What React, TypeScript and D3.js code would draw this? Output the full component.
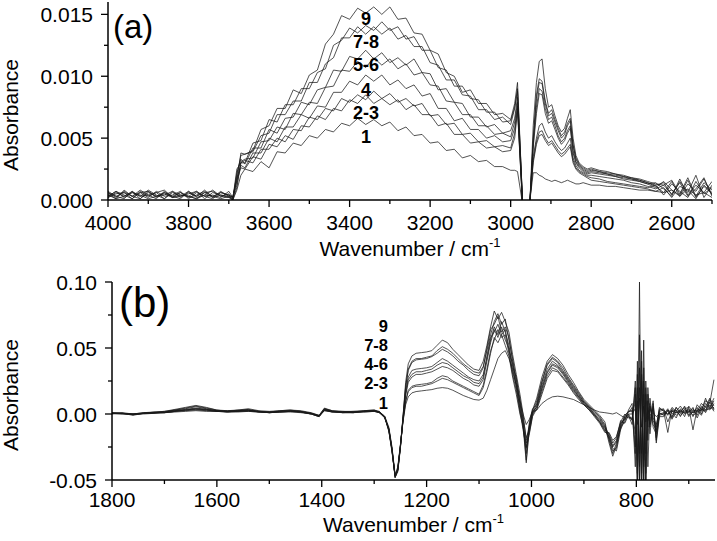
import React from 'react';
import * as d3 from 'd3';

// ---------- Panel (a): 4000–2500 cm-1, absorbance in units of 1e-4 ----------
const TOP_UNIT = 1e-4;
const TOP_WN = [
  4000, 3980, 3960, 3940, 3920, 3900, 3880, 3860, 3840, 3820, 3800, 3780, 3760, 3740, 3720, 3700, 3690, 3680, 3670,
  3660, 3640, 3620, 3600, 3580, 3560, 3540, 3520, 3500, 3480, 3460, 3440, 3420, 3400, 3380, 3360, 3340, 3320, 3300,
  3280, 3260, 3240, 3220, 3200, 3180, 3160, 3140, 3120, 3100, 3080, 3060, 3040, 3020, 3000,
  2990, 2983, 2972, 2966, 2958, 2952, 2944, 2936, 2929, 2922, 2914, 2906, 2898, 2890, 2882, 2874, 2866, 2859, 2852,
  2845, 2838, 2830, 2820, 2810,
  2800, 2780, 2760, 2740, 2720, 2700, 2680, 2660, 2640, 2620, 2600, 2580, 2560, 2540, 2520, 2500,
];
const TOP_S1 = [
  5, 1, 3, 6, 4, 1, 3, 5, 2, 6, 3, 1, 4, 3, 1, 3, 0, 8, 20,
  25, 23, 31, 26, 39, 38, 46, 44, 52, 50, 57, 55, 62, 60, 66, 61, 65, 60, 63, 56, 59, 52, 53, 46, 47, 40, 41, 34, 36, 31, 32, 27, 27, 24,
  24, 23, 0, -40, -40, 0, 22, 22, 20, 19, 17, 16, 15, 16, 15, 14, 15, 16, 15, 14, 13, 13, 14, 13,
  12, 12, 11, 11, 10, 9, 8, 8, 7, 6, 8, 3, 9, 4, 6, 2,
];
const TOP_S2 = [
  2, 5, 6, 3, 1, 7, 3, 6, 2, 3, 5, 7, 3, 1, 6, 4, 2, 16, 26,
  25, 35, 33, 45, 43, 52, 49, 60, 59, 68, 65, 74, 72, 81, 78, 85, 78, 82, 77, 81, 73, 77, 69, 69, 60, 62, 53, 53, 46, 47, 42, 43, 39, 40,
  50, 72, 5, -40, -40, 0, 30, 45, 52, 53, 48, 44, 46, 42, 38, 35, 37, 40, 43, 30, 25, 22, 20, 18,
  16, 15, 14, 13, 12, 11, 10, 9, 7, 10, 2, 11, 8, 1, 12, 6,
];
const TOP_S3 = [
  6, 3, 1, 7, 3, 4, 6, 1, 7, 4, 3, 1, 6, 7, 3, 2, 0, 10, 30,
  32, 30, 41, 41, 50, 47, 57, 56, 67, 65, 74, 72, 82, 79, 85, 81, 88, 82, 86, 79, 82, 76, 78, 68, 69, 61, 62, 53, 54, 47, 48, 43, 44, 42,
  54, 74, 5, -40, -40, 0, 32, 47, 55, 56, 50, 46, 48, 44, 40, 37, 39, 42, 45, 32, 26, 23, 21, 19,
  18, 17, 15, 14, 13, 12, 11, 10, 12, 4, 13, 7, 2, 15, 5, 10,
];
const TOP_S4 = [
  3, 7, 4, 1, 6, 7, 2, 6, 3, 1, 7, 3, 6, 2, 4, 3, 1, 18, 28,
  26, 38, 38, 50, 47, 59, 59, 69, 66, 76, 75, 87, 87, 96, 93, 101, 96, 101, 93, 97, 90, 93, 84, 86, 74, 74, 64, 66, 57, 57, 50, 52, 47, 48,
  58, 76, 6, -40, -40, 0, 35, 50, 60, 62, 55, 50, 52, 47, 43, 40, 42, 46, 50, 34, 28, 24, 22, 20,
  20, 19, 18, 17, 16, 14, 13, 11, 9, 12, 5, 14, 3, 9, 18, 3,
];
const TOP_S5 = [
  4, 1, 8, 3, 6, 2, 7, 3, 4, 7, 1, 6, 3, 4, 2, 7, 2, 12, 31,
  33, 34, 47, 48, 59, 57, 70, 69, 79, 78, 91, 92, 105, 104, 112, 107, 115, 109, 114, 106, 110, 101, 103, 93, 92, 80, 79, 69, 69, 60, 60, 53, 54, 51,
  63, 79, 8, -40, -40, 0, 42, 70, 86, 85, 70, 62, 64, 57, 50, 45, 48, 54, 58, 38, 30, 26, 23, 21,
  22, 21, 20, 19, 17, 16, 15, 13, 10, 15, 8, 4, 16, 2, 11, 5,
];
const TOP_S6 = [
  2, 6, 3, 7, 1, 6, 3, 4, 7, 2, 6, 3, 8, 2, 7, 3, 0, 22, 33,
  29, 42, 42, 57, 54, 66, 67, 79, 77, 89, 91, 105, 104, 116, 114, 121, 114, 119, 111, 115, 109, 114, 103, 102, 89, 90, 79, 78, 67, 67, 59, 61, 54, 56,
  66, 83, 8, -40, -40, 0, 45, 75, 90, 88, 74, 65, 67, 60, 52, 47, 50, 56, 60, 40, 31, 27, 24, 22,
  23, 22, 21, 19, 18, 17, 15, 13, 14, 9, 3, 17, 4, 12, 6, 15,
];
const TOP_S7 = [
  7, 3, 6, 1, 7, 3, 6, 8, 2, 4, 3, 7, 1, 6, 4, 2, 3, 15, 38,
  37, 39, 52, 54, 69, 69, 80, 80, 95, 95, 110, 115, 131, 131, 140, 134, 140, 134, 139, 130, 133, 124, 124, 111, 109, 97, 97, 85, 84, 73, 73, 65, 67, 61,
  74, 88, 10, -40, -40, 0, 48, 82, 95, 94, 78, 68, 70, 63, 56, 50, 53, 60, 64, 44, 33, 28, 25, 23,
  24, 23, 21, 20, 19, 17, 16, 14, 11, 6, 15, 3, 13, 7, 17, 4,
];
const TOP_S8 = [
  3, 7, 2, 6, 3, 8, 4, 1, 6, 3, 7, 2, 4, 8, 3, 5, 1, 25, 30,
  30, 46, 48, 65, 63, 77, 77, 90, 90, 103, 106, 125, 129, 139, 135, 141, 137, 144, 137, 140, 130, 132, 121, 121, 107, 105, 92, 92, 82, 81, 71, 71, 63, 64,
  75, 90, 10, -40, -40, 0, 50, 85, 98, 96, 80, 70, 73, 65, 58, 52, 55, 62, 66, 45, 34, 29, 26, 24,
  25, 23, 22, 21, 19, 18, 16, 14, 12, 14, 4, 15, 6, 20, 2, 12,
];
const TOP_S9 = [
  6, 2, 7, 3, 8, 4, 1, 7, 3, 6, 2, 4, 7, 3, 6, 4, 2, 20, 36,
  37, 40, 57, 60, 74, 74, 89, 86, 101, 105, 126, 134, 149, 146, 155, 151, 156, 150, 156, 146, 147, 135, 134, 121, 118, 103, 100, 87, 89, 78, 78, 69, 70, 65,
  78, 95, 10, -40, -40, 0, 60, 95, 112, 114, 90, 75, 77, 68, 60, 55, 58, 66, 73, 50, 36, 30, 27, 25,
  26, 24, 23, 21, 20, 18, 17, 15, 13, 12, 16, 5, 18, 3, 14, 8,
];
const TOP_SERIES = [TOP_S1, TOP_S2, TOP_S3, TOP_S4, TOP_S5, TOP_S6, TOP_S7, TOP_S8, TOP_S9];
const TOP_X_MAJOR = [4000, 3800, 3600, 3400, 3200, 3000, 2800, 2600];
const TOP_X_MINOR = [3900, 3700, 3500, 3300, 3100, 2900, 2700, 2500];
const TOP_Y_MAJOR = [0, 0.005, 0.01, 0.015];
const TOP_Y_LABELS = ['0.000', '0.005', '0.010', '0.015'];
const TOP_Y_MINOR = [0.0025, 0.0075, 0.0125];
const TOP_CURVE_LABELS = ['9', '7-8', '5-6', '4', '2-3', '1'];

// ---------- Panel (b): 1800–650 cm-1, absorbance in units of 1e-3 ----------
const BOT_UNIT = 1e-3;
const BOT_WN = [
  1800, 1780, 1760, 1740, 1720, 1700, 1680, 1660, 1640, 1620, 1600, 1580, 1560, 1540, 1520, 1500, 1480, 1460, 1440, 1420,
  1405, 1395, 1380, 1360, 1340, 1320, 1300, 1290, 1280,
  1272, 1266, 1260, 1255, 1250, 1245, 1240, 1235, 1228,
  1220, 1210, 1200, 1190, 1180, 1170, 1160, 1150, 1140, 1130, 1120, 1110, 1100,
  1092, 1085, 1078, 1071, 1064, 1057, 1050, 1043, 1036, 1029, 1022, 1016, 1010, 1004, 998,
  990, 980, 970, 960, 950, 940, 930, 920, 910, 900, 890, 880, 870, 860,
  852, 845, 838, 830, 822, 815,
  808, 802, 798, 794, 790, 786, 782, 778, 774, 768, 762, 756,
  748, 740, 732, 724, 716, 708, 700, 692, 684, 676, 668, 660, 652,
];
const BOT_S1 = [
  0.5, 0.5, 0, 0.5, 1, 1, 1.5, 2, 2.5, 2, 2, 1.5, 1.5, 2, 1.5, 1, 1.5, 1.5, 1, 0,
  -1.5, 2.5, 1.5, 1, 1, 1.5, 2, 1.5, -1.5,
  -10, -25, -46, -40, -23, -6, 7, 13, 16,
  17, 17.5, 18, 18.5, 19.5, 20, 19.5, 18, 16, 14, 12.5, 11, 10.5,
  12, 18, 26, 34, 42, 46, 48, 42, 34, 22, 10, 0, -8, -4, 2,
  3, 8, 11, 13, 13.5, 13, 12, 11, 9, 7, 5, 3, 1.5, 1,
  0.5, 0, 1, -1, -3, 0,
  0, 4, -8, 12, -10, 6, -6, 3, -1, 1, -2, 0,
  1, 0, 2, 1, 2, 1, 2, 1, 2, 3, 3, 4, 5,
];
const BOT_S2 = [
  0.5, 0, -0.5, 0.5, 0.5, 1, 2, 2.5, 3, 2.5, 2, 1.5, 2, 2, 1.5, 1, 1.5, 2, 1.5, 0,
  -2, 2.5, 2, 1, 1, 2, 2, 1, -2,
  -12, -27, -48, -42, -25, -5, 9, 17, 20,
  21, 21, 22, 23, 25, 27, 26, 24, 22, 20, 18, 16, 14,
  20, 32, 46, 58, 54, 60, 52, 44, 28, 15, 0, -9, -37, -11, 1,
  3, 15, 27, 33, 32, 27, 22, 16, 11, 7, 3, -2, -7, -14,
  -14, -20, -17, -7, -4, -2,
  -4, 10, -35, 20, -30, 15, -45, 5, -10, 6, -14, -1,
  0, 3, -4, 2, -1, 2, 3, -1, 1, 5, 1, 7, 2,
];
const BOT_S3 = [
  1, 0.5, 0, 0.5, 1, 1, 2, 3, 3.5, 3, 2, 2, 2, 2.5, 2, 1, 1.5, 2, 1.5, 0.5,
  -1.5, 3, 1.5, 1.5, 1.5, 1.5, 2, 1, -2.5,
  -11, -26, -47, -41, -24, -5, 10, 18, 21,
  22, 22.5, 23, 24, 27, 29, 28, 25, 23, 21, 19, 17, 15,
  22, 34, 48, 56, 64, 58, 60, 46, 30, 18, 2, -12, -26, -15, -2,
  4, 17, 29, 35, 33, 28, 23, 17, 12, 7, 3, -1, -6, -13,
  -17, -25, -21, -11, -1, 2,
  3, -15, 10, -40, 25, -50, 15, -5, 4, -3, -8, 2,
  3, 0, 3, -1, 2, 5, -2, 2, 3, -1, 6, 3, 8,
];
const BOT_S4 = [
  0.5, 0.5, -0.5, 0, 0.5, 1.5, 2.5, 3, 4, 3.5, 2.5, 1.5, 2.5, 3, 1.5, 1.5, 2, 2.5, 1.5, 0,
  -2, 3.5, 2, 1, 1.5, 2, 2.5, 1, -3,
  -11, -27, -47, -42, -24, -4, 14, 24, 28,
  30, 30, 31, 32, 34, 36, 35, 33, 30, 27, 25, 22, 21,
  26, 40, 54, 64, 58, 66, 56, 50, 32, 22, 3, -6, -35, -9, 2,
  5, 19, 31, 37, 35, 30, 24, 18, 13, 8, 4, -1, -6, -12,
  -15, -22, -18, -5, -7, -1,
  -8, 25, -45, 35, -60, 25, -30, 10, -15, 8, -18, 1,
  -1, 2, -2, 5, 0, 3, 1, 5, -3, 4, 2, 11, 3,
];
const BOT_S5 = [
  0.5, 0, 0, 0.5, 1, 1, 2, 3, 4, 3, 2, 2, 2, 2.5, 2, 1, 1.5, 2, 2, 0.5,
  -1.5, 3, 1.5, 1.5, 1, 2, 2.5, 1.5, -2,
  -12, -27, -48, -42, -25, -4, 15, 26, 30,
  32, 32, 33, 34, 37, 39, 38, 35, 32, 29, 27, 24, 23,
  28, 44, 58, 62, 68, 60, 64, 48, 38, 20, 5, -10, -22, -14, -1,
  6, 20, 32, 38, 36, 31, 25, 19, 13, 8, 4, 0, -5, -11,
  -19, -28, -26, -9, -3, 1,
  5, -25, 20, -50, 40, -35, 20, -40, 6, -5, -10, 5,
  2, -14, 4, 1, 3, -2, 6, 1, 5, 0, 8, 5, 12,
];
const BOT_S6 = [
  0, 0.5, -1, 0.5, 1, 1.5, 2.5, 3.5, 4.5, 3.5, 2.5, 2.5, 2.5, 3, 1.5, 1.5, 2, 2.5, 1.5, 0,
  -2, 3.5, 2, 1.5, 1.5, 2, 2.5, 1, -2.5,
  -13, -28, -47, -43, -25, -4, 17, 28, 33,
  34, 34.5, 35, 36, 39, 42, 40, 37, 34, 31, 28, 26, 25,
  30, 42, 56, 66, 60, 70, 62, 52, 36, 28, 8, -8, -30, -6, 4,
  7, 22, 34, 40, 37, 32, 26, 20, 14, 9, 5, 0, -4, -10,
  -16, -24, -20, -6, 0, -3,
  -3, 15, -60, 60, -45, 35, -60, 15, -5, 10, -22, -2,
  -2, 3, 1, -3, 4, 0, 2, 4, -1, 6, 3, 9, 4,
];
const BOT_S7 = [
  0.5, 0.5, 0, 1, 1, 1.5, 3, 4, 5.5, 4, 2.5, 2, 3, 3, 2, 1.5, 2, 2.5, 2, 0.5,
  -1, 4, 2.5, 1.5, 2, 2, 2.5, 1.5, -2,
  -12, -27, -48, -42, -24, -2, 20, 33, 39,
  41, 41.5, 42, 43.5, 46, 49, 47, 44, 40, 37, 33, 30, 29,
  35, 50, 64, 68, 74, 62, 66, 58, 40, 24, 8, -3, -18, -12, 0,
  8, 24, 37, 42, 39, 33, 27, 21, 15, 9, 5, 1, -3, -9,
  -22, -32, -24, -10, -6, 3,
  8, -40, 30, -30, 48, -55, 25, -10, 12, -8, -12, 3,
  4, -6, 2, 3, -2, 4, 5, -12, 4, 2, 12, 4, 10,
];
const BOT_S8 = [
  1, 0.5, -0.5, 0.5, 1.5, 2, 3, 4.5, 6, 4.5, 3, 2, 2.5, 3.5, 2, 1.5, 2.5, 3, 2, 0.5,
  -1.5, 4, 2, 2, 1.5, 2.5, 3, 1.5, -2.5,
  -13, -29, -47, -43, -25, -3, 21, 34, 40,
  42, 42, 43, 44, 48, 51, 49, 46, 42, 38, 35, 32, 31,
  36, 48, 60, 70, 76, 68, 72, 56, 42, 26, 12, -5, -25, -10, 2,
  10, 25, 38, 43, 40, 35, 28, 22, 16, 10, 6, 2, -2, -8,
  -18, -26, -28, -12, -4, 0,
  -5, 20, -55, 100, -60, 56, -50, 20, -8, 5, -20, 0,
  0, 4, -3, 5, 1, 6, -1, 3, 2, 8, 5, 12, 6,
];
const BOT_S9 = [
  0.5, 1, 0, 1, 1.5, 2, 3.5, 5, 6.5, 5, 3, 2.5, 3, 4, 2.5, 2, 2.5, 3, 2.5, 1,
  -1, 4.5, 2.5, 2, 2, 2.5, 3, 2, -2,
  -12, -28, -48, -44, -26, -2, 24, 38, 44,
  46, 46.5, 47, 48, 52, 56, 54, 49, 45, 41, 37, 34, 33,
  40, 52, 66, 78, 72, 77, 70, 62, 45, 30, 15, 0, -20, -8, 3,
  12, 28, 40, 45, 42, 37, 30, 24, 17, 11, 7, 3, -1, -6,
  -20, -30, -22, -8, -2, 2,
  2, -30, 40, -60, 30, -40, 10, -20, 8, -10, -15, 4,
  3, -1, 5, 2, 6, 1, 4, -2, 7, 3, 10, 8, 26,
];
const BOT_SERIES = [BOT_S1, BOT_S2, BOT_S3, BOT_S4, BOT_S5, BOT_S6, BOT_S7, BOT_S8, BOT_S9];
const BOT_X_MAJOR = [1800, 1600, 1400, 1200, 1000, 800];
const BOT_X_MINOR = [1700, 1500, 1300, 1100, 900, 700];
const BOT_Y_MAJOR = [-0.05, 0, 0.05, 0.1];
const BOT_Y_LABELS = ['-0.05', '0.00', '0.05', '0.10'];
const BOT_Y_MINOR = [-0.025, 0.025, 0.075];
const BOT_CURVE_LABELS = ['9', '7-8', '4-6', '2-3', '1'];

const FONT = '"Liberation Sans", Arial, Helvetica, sans-serif';
const MAJOR = 7;
const MINOR = 4;

type PanelProps = {
  id: string;
  wn: number[];
  series: number[][];
  unit: number;
  xDomain: [number, number];
  yDomain: [number, number];
  left: number;
  right: number;
  top: number;
  bottom: number;
  xMajor: number[];
  xMinor: number[];
  yMajor: number[];
  yLabels: string[];
  yMinor: number[];
  xLabelBaseline: number;
  xTitleBaseline: number;
  yTitleCenter: number;
  tag: string;
  tagSize: number;
  tagX: number;
  tagY: number;
  curveLabels: string[];
  curveLabelX: number;
  curveLabelBaselines: number[];
  curveLabelAnchor: 'middle' | 'end';
  curveLabelSize: number;
};

function Panel(p: PanelProps) {
  const x = d3.scaleLinear().domain(p.xDomain).range([p.left, p.right]);
  const y = d3.scaleLinear().domain(p.yDomain).range([p.bottom, p.top]);
  const line = d3
    .line<number>()
    .x((_, i) => x(p.wn[i]))
    .y((v) => y(v * p.unit));
  const clipId = `clip-${p.id}`;
  return (
    <g>
      <defs>
        <clipPath id={clipId}>
          <rect x={p.left} y={p.top - 1} width={p.right - p.left} height={p.bottom - p.top + 1} />
        </clipPath>
      </defs>
      <g clipPath={`url(#${clipId})`}>
        {p.series.map((s, i) => (
          <path key={i} d={line(s) || ''} fill="none" stroke="#1a1a1a" strokeWidth={0.75} strokeLinejoin="round" />
        ))}
      </g>
      <line x1={p.left} x2={p.right} y1={p.bottom} y2={p.bottom} stroke="#000" strokeWidth={1.5} />
      <line x1={p.left} x2={p.left} y1={p.top} y2={p.bottom} stroke="#000" strokeWidth={1.5} />
      {p.xMajor.map((t) => (
        <line key={`xM${t}`} x1={x(t)} x2={x(t)} y1={p.bottom} y2={p.bottom + MAJOR} stroke="#000" strokeWidth={1.3} />
      ))}
      {p.xMinor.map((t) => (
        <line key={`xm${t}`} x1={x(t)} x2={x(t)} y1={p.bottom} y2={p.bottom + MINOR} stroke="#000" strokeWidth={1.3} />
      ))}
      {p.yMajor.map((t) => (
        <line key={`yM${t}`} x1={p.left - MAJOR} x2={p.left} y1={y(t)} y2={y(t)} stroke="#000" strokeWidth={1.3} />
      ))}
      {p.yMinor.map((t) => (
        <line key={`ym${t}`} x1={p.left - MINOR} x2={p.left} y1={y(t)} y2={y(t)} stroke="#000" strokeWidth={1.3} />
      ))}
      {p.xMajor.map((t) => (
        <text key={`xl${t}`} x={x(t)} y={p.xLabelBaseline} textAnchor="middle" fontSize={21} fontFamily={FONT}>
          {t}
        </text>
      ))}
      {p.yMajor.map((t, i) => (
        <text key={`yl${t}`} x={p.left - 15} y={y(t) + 7.5} textAnchor="end" fontSize={21} fontFamily={FONT}>
          {p.yLabels[i]}
        </text>
      ))}
      <text x={(p.left + p.right) / 2} y={p.xTitleBaseline} textAnchor="middle" fontSize={21} fontFamily={FONT}>
        Wavenumber / cm
        <tspan fontSize={13} dy={-9}>
          -1
        </tspan>
      </text>
      <text
        transform={`translate(18,${p.yTitleCenter}) rotate(-90)`}
        textAnchor="middle"
        fontSize={21}
        fontFamily={FONT}
      >
        Absorbance
      </text>
      <text x={p.tagX} y={p.tagY} fontSize={p.tagSize} fontFamily={FONT}>
        {p.tag}
      </text>
      {p.curveLabels.map((l, i) => (
        <text
          key={`cl${i}`}
          x={p.curveLabelX}
          y={p.curveLabelBaselines[i]}
          textAnchor={p.curveLabelAnchor}
          fontSize={p.curveLabelSize}
          fontWeight="bold"
          fontFamily={FONT}
        >
          {l}
        </text>
      ))}
    </g>
  );
}

export default function App() {
  return (
    <svg
      width={717}
      height={541}
      viewBox="0 0 717 541"
      style={{ position: 'absolute', left: 0, top: 0, background: '#fff' }}
    >
      <rect width={717} height={541} fill="#fff" />
      <Panel
        id="a"
        wn={TOP_WN}
        series={TOP_SERIES}
        unit={TOP_UNIT}
        xDomain={[4000, 2500]}
        yDomain={[0, 0.016]}
        left={108}
        right={712}
        top={2}
        bottom={200}
        xMajor={TOP_X_MAJOR}
        xMinor={TOP_X_MINOR}
        yMajor={TOP_Y_MAJOR}
        yLabels={TOP_Y_LABELS}
        yMinor={TOP_Y_MINOR}
        xLabelBaseline={230}
        xTitleBaseline={256}
        yTitleCenter={115}
        tag="(a)"
        tagSize={33}
        tagX={113}
        tagY={38}
        curveLabels={TOP_CURVE_LABELS}
        curveLabelX={366}
        curveLabelBaselines={[25, 48, 71, 96, 119, 143]}
        curveLabelAnchor="middle"
        curveLabelSize={18}
      />
      <Panel
        id="b"
        wn={BOT_WN}
        series={BOT_SERIES}
        unit={BOT_UNIT}
        xDomain={[1800, 650]}
        yDomain={[-0.05, 0.1]}
        left={112}
        right={715}
        top={282}
        bottom={480}
        xMajor={BOT_X_MAJOR}
        xMinor={BOT_X_MINOR}
        yMajor={BOT_Y_MAJOR}
        yLabels={BOT_Y_LABELS}
        yMinor={BOT_Y_MINOR}
        xLabelBaseline={507}
        xTitleBaseline={532}
        yTitleCenter={395}
        tag="(b)"
        tagSize={42}
        tagX={119}
        tagY={317}
        curveLabels={BOT_CURVE_LABELS}
        curveLabelX={388}
        curveLabelBaselines={[332, 351, 370, 389, 409]}
        curveLabelAnchor="end"
        curveLabelSize={16.5}
      />
    </svg>
  );
}
